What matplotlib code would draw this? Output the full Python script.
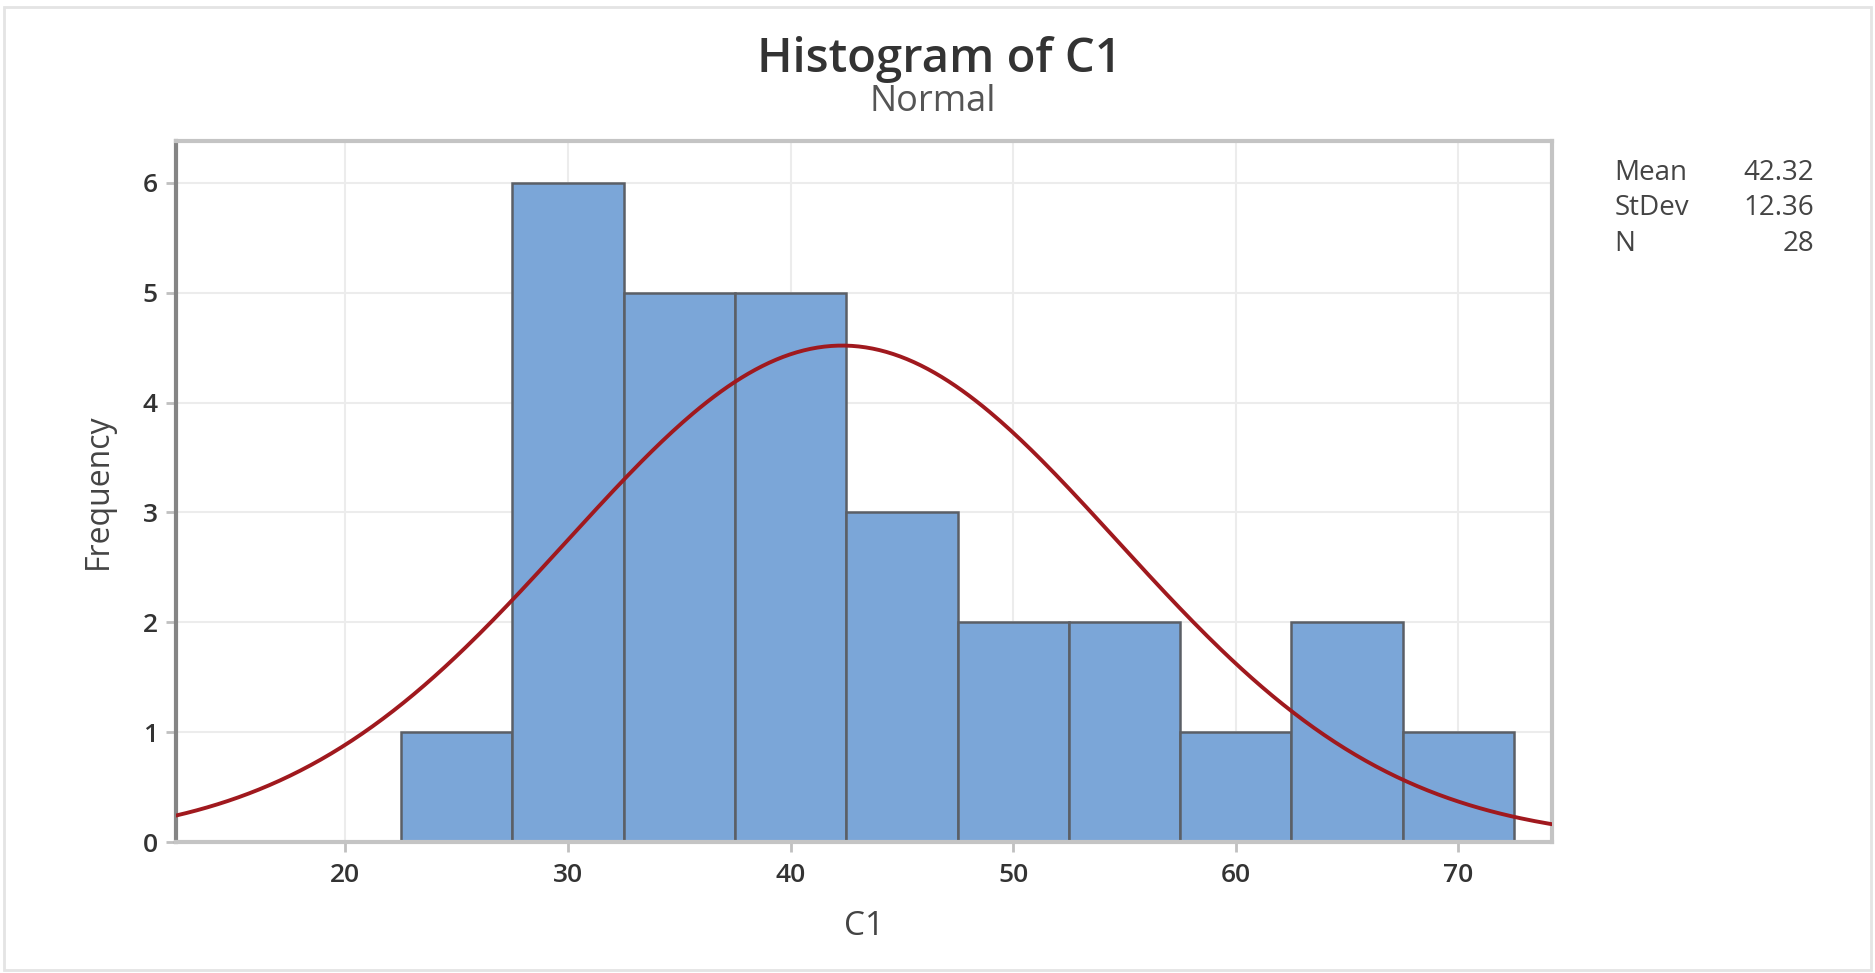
import numpy as np
import matplotlib
matplotlib.use("Agg")
import matplotlib.pyplot as plt
from matplotlib.patches import Rectangle

# Data
bin_edges = [22.5, 27.5, 32.5, 37.5, 42.5, 47.5, 52.5, 57.5, 62.5, 67.5, 72.5]
counts = [1, 6, 5, 5, 3, 2, 2, 1, 2, 1]
mean_val = 42.32
std_val = 12.36
n_val = 28
x_ticks = [20, 30, 40, 50, 60, 70]
y_ticks = [0, 1, 2, 3, 4, 5, 6]
stat_labels = ["Mean", "StDev", "N"]
stat_values = ["42.32", "12.36", "28"]

plt.rcParams['font.family'] = ['Open Sans', 'DejaVu Sans']

fig = plt.figure(figsize=(18.75, 9.73), dpi=100)
ax = fig.add_axes([0.0939, 0.1346, 0.8277 - 0.0939, 0.855 - 0.1346])

# figure frame
fig.patches.append(Rectangle((0.002, 0.003), 0.996, 0.99, transform=fig.transFigure,
                             fill=False, edgecolor='#e4e4e4', linewidth=2))

edges = np.array(bin_edges)
ax.bar(edges[:-1], counts, width=np.diff(edges), align='edge',
       color='#7ba6d8', edgecolor='#5b5f66', linewidth=1.8, zorder=2)

xs = np.linspace(12.4, 74.2, 400)
binw = edges[1] - edges[0]
ys = n_val * binw * np.exp(-0.5 * ((xs - mean_val) / std_val) ** 2) / (std_val * np.sqrt(2 * np.pi))
ax.plot(xs, ys, color='#a0191e', linewidth=2.8, zorder=3)

ax.set_xlim(12.4, 74.2)
ax.set_ylim(0, 6.38)
ax.set_xticks(x_ticks)
ax.set_yticks(y_ticks)
ax.grid(True, color='#ececec', linewidth=1.5, zorder=0)
ax.set_axisbelow(True)

for s in ['top', 'right', 'bottom']:
    ax.spines[s].set_color('#c4c4c4')
    ax.spines[s].set_linewidth(3)
ax.spines['left'].set_color('#858585')
ax.spines['left'].set_linewidth(3)

ax.tick_params(axis='both', colors='#c0c0c0', length=7, width=2, labelsize=19,
               labelcolor='#333333')
for lbl in ax.get_xticklabels() + ax.get_yticklabels():
    lbl.set_fontweight('semibold')
ax.tick_params(axis='y', pad=6)
ax.tick_params(axis='x', pad=8)

ax.set_xlabel("C1", fontsize=24, color='#444444', labelpad=16)
ax.set_ylabel("Frequency", fontsize=23, color='#444444', labelpad=20)

fig.text(0.501, 0.939, "Histogram of C1", ha='center', va='center', fontsize=34,
         fontweight='semibold', color='#333333')
fig.text(0.4975, 0.895, "Normal", ha='center', va='center', fontsize=26, color='#555555')

row_y = [0.822, 0.786, 0.749]
for lab, val, yy in zip(stat_labels, stat_values, row_y):
    fig.text(0.861, yy, lab, ha='left', va='center', fontsize=20, color='#444444')
    fig.text(0.9675, yy, val, ha='right', va='center', fontsize=20, color='#444444')

fig.savefig("out.png", dpi=100)
